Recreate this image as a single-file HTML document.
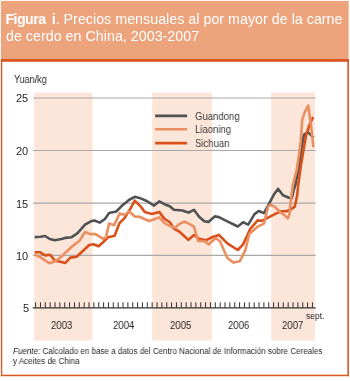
<!DOCTYPE html>
<html><head><meta charset="utf-8"><style>
html,body{margin:0;padding:0;background:#fff;}
body{width:350px;height:381px;position:relative;overflow:hidden;font-family:"Liberation Sans",sans-serif;}
.t{position:absolute;white-space:nowrap;color:#fff;font-size:14.3px;left:5.6px;will-change:transform;}
.lab{position:absolute;white-space:nowrap;color:#262626;transform-origin:0 0;will-change:transform;}
svg{position:absolute;left:0;top:0;}
</style></head><body>
<svg width="350" height="381" viewBox="0 0 350 381">
<rect x="0.9" y="0.9" width="347.7" height="58.3" fill="#EDA37B"/>
<g fill="#DC5622">
<rect x="0.9" y="59" width="348" height="2.8"/>
<rect x="0.9" y="59" width="1.35" height="317.2"/>
<rect x="347.3" y="59" width="1.6" height="317.2"/>
<rect x="0.9" y="374.7" width="348" height="1.5"/>
</g>
<g fill="#FCE6D9">
<rect x="34" y="92.5" width="58.5" height="248.1"/>
<rect x="152.2" y="92.5" width="59.7" height="248.1"/>
<rect x="271.2" y="92.5" width="43.8" height="248.1"/>
</g>
<g stroke="#A8A8A8" stroke-width="1.2">
<line x1="33" y1="98" x2="315.7" y2="98"/>
<line x1="33" y1="150.5" x2="315.7" y2="150.5"/>
<line x1="33" y1="203.2" x2="315.7" y2="203.2"/>
<line x1="33" y1="255.3" x2="315.7" y2="255.3"/>
</g>
<line x1="32.7" y1="307.9" x2="315.6" y2="307.9" stroke="#333" stroke-width="1.3"/>
<g stroke="#262626" stroke-width="0.95"><line x1="35.60" y1="302.3" x2="35.60" y2="307.6"/><line x1="40.46" y1="302.3" x2="40.46" y2="307.6"/><line x1="45.31" y1="302.3" x2="45.31" y2="307.6"/><line x1="50.17" y1="302.3" x2="50.17" y2="307.6"/><line x1="55.03" y1="302.3" x2="55.03" y2="307.6"/><line x1="59.89" y1="302.3" x2="59.89" y2="307.6"/><line x1="64.74" y1="302.3" x2="64.74" y2="307.6"/><line x1="69.60" y1="302.3" x2="69.60" y2="307.6"/><line x1="74.46" y1="302.3" x2="74.46" y2="307.6"/><line x1="79.31" y1="302.3" x2="79.31" y2="307.6"/><line x1="84.17" y1="302.3" x2="84.17" y2="307.6"/><line x1="89.03" y1="302.3" x2="89.03" y2="307.6"/><line x1="93.88" y1="302.3" x2="93.88" y2="307.6"/><line x1="98.74" y1="302.3" x2="98.74" y2="307.6"/><line x1="103.60" y1="302.3" x2="103.60" y2="307.6"/><line x1="108.46" y1="302.3" x2="108.46" y2="307.6"/><line x1="113.31" y1="302.3" x2="113.31" y2="307.6"/><line x1="118.17" y1="302.3" x2="118.17" y2="307.6"/><line x1="123.03" y1="302.3" x2="123.03" y2="307.6"/><line x1="127.88" y1="302.3" x2="127.88" y2="307.6"/><line x1="132.74" y1="302.3" x2="132.74" y2="307.6"/><line x1="137.60" y1="302.3" x2="137.60" y2="307.6"/><line x1="142.45" y1="302.3" x2="142.45" y2="307.6"/><line x1="147.31" y1="302.3" x2="147.31" y2="307.6"/><line x1="152.17" y1="302.3" x2="152.17" y2="307.6"/><line x1="157.03" y1="302.3" x2="157.03" y2="307.6"/><line x1="161.88" y1="302.3" x2="161.88" y2="307.6"/><line x1="166.74" y1="302.3" x2="166.74" y2="307.6"/><line x1="171.60" y1="302.3" x2="171.60" y2="307.6"/><line x1="176.45" y1="302.3" x2="176.45" y2="307.6"/><line x1="181.31" y1="302.3" x2="181.31" y2="307.6"/><line x1="186.17" y1="302.3" x2="186.17" y2="307.6"/><line x1="191.02" y1="302.3" x2="191.02" y2="307.6"/><line x1="195.88" y1="302.3" x2="195.88" y2="307.6"/><line x1="200.74" y1="302.3" x2="200.74" y2="307.6"/><line x1="205.59" y1="302.3" x2="205.59" y2="307.6"/><line x1="210.45" y1="302.3" x2="210.45" y2="307.6"/><line x1="215.31" y1="302.3" x2="215.31" y2="307.6"/><line x1="220.17" y1="302.3" x2="220.17" y2="307.6"/><line x1="225.02" y1="302.3" x2="225.02" y2="307.6"/><line x1="229.88" y1="302.3" x2="229.88" y2="307.6"/><line x1="234.74" y1="302.3" x2="234.74" y2="307.6"/><line x1="239.59" y1="302.3" x2="239.59" y2="307.6"/><line x1="244.45" y1="302.3" x2="244.45" y2="307.6"/><line x1="249.31" y1="302.3" x2="249.31" y2="307.6"/><line x1="254.16" y1="302.3" x2="254.16" y2="307.6"/><line x1="259.02" y1="302.3" x2="259.02" y2="307.6"/><line x1="263.88" y1="302.3" x2="263.88" y2="307.6"/><line x1="268.74" y1="302.3" x2="268.74" y2="307.6"/><line x1="273.59" y1="302.3" x2="273.59" y2="307.6"/><line x1="278.45" y1="302.3" x2="278.45" y2="307.6"/><line x1="283.31" y1="302.3" x2="283.31" y2="307.6"/><line x1="288.16" y1="302.3" x2="288.16" y2="307.6"/><line x1="293.02" y1="302.3" x2="293.02" y2="307.6"/><line x1="297.88" y1="302.3" x2="297.88" y2="307.6"/><line x1="302.74" y1="302.3" x2="302.74" y2="307.6"/><line x1="307.59" y1="302.3" x2="307.59" y2="307.6"/><line x1="312.45" y1="302.3" x2="312.45" y2="307.6"/></g>
<g fill="none" stroke-width="2.6" stroke-linejoin="round" stroke-linecap="butt">
<polyline stroke="#505355" points="34.6,237.1 40.5,236.8 45.1,236.0 49.7,239.0 54.9,240.3 61.5,239.0 65.0,237.9 71.3,237.3 77.6,233.1 85.0,224.7 91.3,221.1 94.4,220.5 99.7,222.6 104.9,219.0 109.1,213.1 116.3,211.5 122.6,205.2 128.9,200.0 134.8,196.8 139.4,197.9 146.8,201.0 154.1,205.6 159.2,201.4 164.5,204.2 169.7,206.3 173.9,209.8 182.3,210.5 188.6,212.6 193.9,209.8 199.1,216.8 204.2,221.3 208.4,221.9 214.7,216.4 218.9,217.1 227.3,221.3 237.8,226.5 243.1,222.3 248.2,224.6 254.5,214.1 258.7,211.0 263.9,213.1 268.1,205.7 274.1,194.2 278.0,188.9 283.0,195.3 288.9,197.7 291.8,198.3 293.6,190.6 295.3,185.2 299.2,164.5 301.6,147.1 304.0,134.5 307.9,132.1 313.4,137.6"/>
<polyline stroke="#D9501B" points="34.6,252.2 39.8,252.2 45.1,255.4 50.3,254.8 54.9,260.7 60.2,261.7 65.4,263.0 70.3,257.6 76.6,256.8 81.8,252.0 89.2,245.0 93.4,244.2 98.6,246.3 102.8,242.5 108.1,237.3 114.6,235.7 119.5,223.1 124.7,217.8 130.0,209.4 134.8,200.6 140.5,206.3 144.7,211.9 152.0,214.0 159.2,211.9 164.5,218.9 169.7,222.0 173.9,228.7 179.2,231.5 184.4,236.3 188.6,239.9 193.9,235.0 199.1,238.8 206.3,240.2 212.6,237.0 218.9,234.9 227.3,243.3 237.8,250.0 243.1,244.4 250.3,228.8 257.6,220.4 261.8,220.8 270.0,216.6 275.9,213.6 281.2,211.3 286.5,211.3 290.7,209.5 294.8,206.6 297.2,195.3 298.2,185.2 300.8,166.1 304.0,147.1 306.3,134.5 309.5,125.0 313.1,117.0"/>
<polyline stroke="#EB8F61" points="34.6,254.4 40.5,257.4 49.7,263.3 56.2,260.7 62.8,255.4 65.0,253.0 72.4,246.3 79.7,240.4 85.0,232.0 90.2,234.1 95.5,234.1 102.8,238.7 106.0,237.3 109.1,223.6 114.2,225.2 119.5,213.6 124.7,214.7 129.3,211.5 135.2,216.8 139.4,216.8 148.9,221.0 155.2,218.9 159.2,217.4 164.5,223.1 169.7,225.8 175.0,227.9 179.2,224.1 184.4,221.6 189.7,224.1 193.9,226.6 198.1,240.9 205.0,241.3 208.4,244.4 215.8,238.1 220.0,241.2 227.3,258.0 233.6,262.6 239.9,261.2 245.2,250.7 249.2,234.1 257.6,226.7 263.9,223.6 268.1,206.8 270.0,204.8 274.7,206.6 280.6,212.5 284.2,214.8 287.7,218.4 289.5,214.2 291.3,196.5 292.9,185.2 296.8,169.2 299.2,153.4 300.9,139.5 302.2,119.7 304.9,111.8 308.2,105.5 310.8,123.7 313.4,147.4"/>
</g>
<g stroke-width="2.6">
<line x1="155.1" y1="115.9" x2="187.1" y2="115.9" stroke="#505355"/>
<line x1="155.1" y1="129.3" x2="187.1" y2="129.3" stroke="#EB8F61"/>
<line x1="155.1" y1="143.1" x2="187.1" y2="143.1" stroke="#D9501B"/>
</g>
</svg>
<div class="t" id="t1" style="top:10.8px"><b style="letter-spacing:-0.6px;margin-left:-0.6px">Figura</b><b style="margin-left:2.2px"> i</b>. Precios mensuales al por mayor de la carne</div>
<div class="t" id="t2" style="top:27.5px">de cerdo en China, 2003-2007</div>
<div class="lab" id="yk" style="left:14.4px;top:72.5px;font-size:11.2px;transform:scaleX(0.81)">Yuan/kg</div>
<div class="lab" id="y25" style="left:16.4px;top:92px;font-size:11px">25</div>
<div class="lab" id="y20" style="left:16.4px;top:145px;font-size:11px">20</div>
<div class="lab" id="y15" style="left:16.4px;top:197.5px;font-size:11px">15</div>
<div class="lab" id="y10" style="left:16.4px;top:250px;font-size:11px">10</div>
<div class="lab" id="y5" style="left:22.7px;top:301.6px;font-size:11px">5</div>
<div class="lab" id="lg1" style="transform:scaleX(0.91);left:195.3px;color:#3a3a3a;top:110px;font-size:10.5px">Guandong</div>
<div class="lab" id="lg2" style="transform:scaleX(0.91);left:195.3px;color:#3a3a3a;top:123px;font-size:10.5px">Liaoning</div>
<div class="lab" id="lg3" style="transform:scaleX(0.91);left:195.3px;color:#3a3a3a;top:136.5px;font-size:10.5px">Sichuan</div>
<div class="lab" id="yr3" style="transform:scaleX(0.875);left:51px;top:319px;font-size:11px">2003</div>
<div class="lab" id="yr4" style="transform:scaleX(0.875);left:112.6px;top:319px;font-size:11px">2004</div>
<div class="lab" id="yr5" style="transform:scaleX(0.875);left:170.1px;top:319px;font-size:11px">2005</div>
<div class="lab" id="yr6" style="transform:scaleX(0.875);left:227.8px;top:319px;font-size:11px">2006</div>
<div class="lab" id="yr7" style="transform:scaleX(0.875);left:281.5px;top:319px;font-size:11px">2007</div>
<div class="lab" id="sept" style="left:306px;top:311px;font-size:8.5px">sept.</div>
<div class="lab" id="f1" style="transform:scaleX(0.945);left:13px;top:346px;font-size:8.5px"><i>Fuente:</i> Calcolado en base a datos del Centro Nacional de Información sobre Cereales</div>
<div class="lab" id="f2" style="transform:scaleX(0.945);left:13px;top:355.5px;font-size:8.5px">y Aceites de China</div>
</body></html>
